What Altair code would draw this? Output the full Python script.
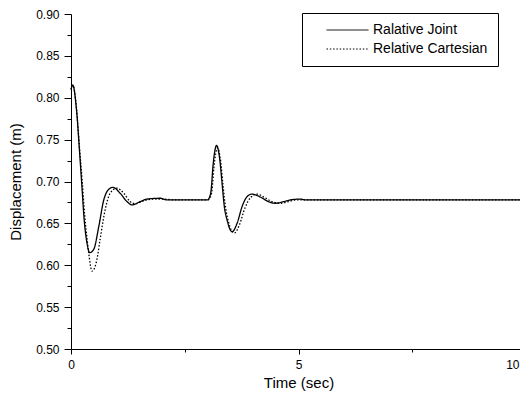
import altair as alt
import pandas as pd

series_names = ["Ralative Joint", "Relative Cartesian"]

t_joint = [0.0, 0.04, 0.12, 0.19, 0.24, 0.29, 0.35, 0.41, 0.50, 0.61, 0.72, 0.86, 0.92,
           1.08, 1.23, 1.34, 1.52, 1.67, 1.96, 2.11, 2.3, 3.0, 3.05, 3.08, 3.12, 3.20,
           3.27, 3.32, 3.37, 3.43, 3.54, 3.65, 3.76, 3.87, 3.98, 4.16, 4.34, 4.49, 4.67,
           4.82, 5.04, 5.15, 5.4, 10.0]
y_joint = [0.810, 0.815, 0.786, 0.734, 0.694, 0.654, 0.627, 0.615, 0.619, 0.646, 0.678,
           0.692, 0.693, 0.686, 0.676, 0.672, 0.676, 0.679, 0.680, 0.678, 0.678, 0.678,
           0.682, 0.690, 0.718, 0.743, 0.726, 0.698, 0.670, 0.654, 0.640, 0.650, 0.670,
           0.682, 0.685, 0.6815, 0.676, 0.674, 0.676, 0.678, 0.679, 0.678, 0.678, 0.678]

t_cart = [0.0, 0.04, 0.12, 0.19, 0.25, 0.30, 0.36, 0.40, 0.46, 0.52, 0.57, 0.64, 0.75,
          0.86, 1.01, 1.16, 1.30, 1.41, 1.60, 1.80, 2.0, 2.3, 3.0, 3.06, 3.10, 3.14,
          3.22, 3.29, 3.34, 3.40, 3.46, 3.59, 3.70, 3.82, 3.95, 4.09, 4.25, 4.42, 4.60,
          4.78, 4.95, 5.2, 10.0]
y_cart = [0.810, 0.815, 0.788, 0.738, 0.698, 0.660, 0.628, 0.610, 0.593, 0.597, 0.607,
          0.631, 0.666, 0.686, 0.692, 0.686, 0.676, 0.6735, 0.677, 0.679, 0.679, 0.678,
          0.678, 0.681, 0.690, 0.716, 0.740, 0.724, 0.696, 0.668, 0.652, 0.6385, 0.648,
          0.668, 0.681, 0.685, 0.681, 0.676, 0.674, 0.676, 0.678, 0.678, 0.678]

x_tick_values = [0, 2.5, 5, 7.5, 10]
y_tick_values = [0.500, 0.525, 0.550, 0.575, 0.600, 0.625, 0.650, 0.675, 0.700,
                 0.725, 0.750, 0.775, 0.800, 0.825, 0.850, 0.875, 0.900]

df = pd.concat([
    pd.DataFrame({"t": t_joint, "y": y_joint, "s": series_names[0]}),
    pd.DataFrame({"t": t_cart, "y": y_cart, "s": series_names[1]}),
])

FONT = "Liberation Sans"
x_major = "abs(datum.value / 5 - round(datum.value / 5)) < 0.001"
y_major = "abs(datum.value * 20 - round(datum.value * 20)) < 0.001"
x_last = "datum.value >= 10"

chart = alt.Chart(df).mark_line(color="black", strokeWidth=1.3, interpolate="monotone").encode(
    x=alt.X("t:Q",
            scale=alt.Scale(domain=[0, 10], nice=False),
            axis=alt.Axis(values=x_tick_values, title="Time (sec)", grid=False,
                          labelExpr=f"{x_major} ? format(datum.value, 'd') : ''",
                          tickSize={"condition": {"test": x_major, "value": 5}, "value": 3},
                          labelAlign={"condition": {"test": x_last, "value": "right"}, "value": "center"},
                          labelOffset={"condition": {"test": x_last, "value": -7}, "value": 0},
                          labelPadding=5, titlePadding=5)),
    y=alt.Y("y:Q",
            scale=alt.Scale(domain=[0.5, 0.9], nice=False, zero=False),
            axis=alt.Axis(values=y_tick_values, title="Displacement (m)", grid=False,
                          labelExpr=f"{y_major} ? format(datum.value, '.2f') : ''",
                          tickSize={"condition": {"test": y_major, "value": 7}, "value": 4},
                          labelPadding=5, titlePadding=12)),
    strokeDash=alt.StrokeDash(
        "s:N",
        scale=alt.Scale(domain=series_names, range=[[1, 0], [1.5, 1.8]]),
        legend=alt.Legend(title=None, orient="none", legendX=231, legendY=-1,
                          strokeColor="black", padding=10, fillColor="white",
                          symbolType="stroke", symbolSize=1764, clipHeight=14,
                          symbolOffset=14,
                          symbolStrokeColor="black", symbolStrokeWidth=1,
                          labelOffset=4, rowPadding=5,
                          labelFont=FONT, labelFontSize=14, labelColor="black"),
    ),
).properties(
    width=455,
    height=335,
    autosize=alt.AutoSizeParams(type="none"),
    padding={"left": 63, "top": 6, "right": -6, "bottom": 52},
).configure_view(
    stroke=None
).configure_axis(
    domainColor="black", domainWidth=1, tickColor="black", tickWidth=1,
    labelColor="black", titleColor="black", labelFont=FONT, titleFont=FONT,
    labelFontSize=12, titleFontSize=15, titleFontWeight="normal",
)

chart.save("out.html", embed_options={"renderer": "svg", "actions": False})
